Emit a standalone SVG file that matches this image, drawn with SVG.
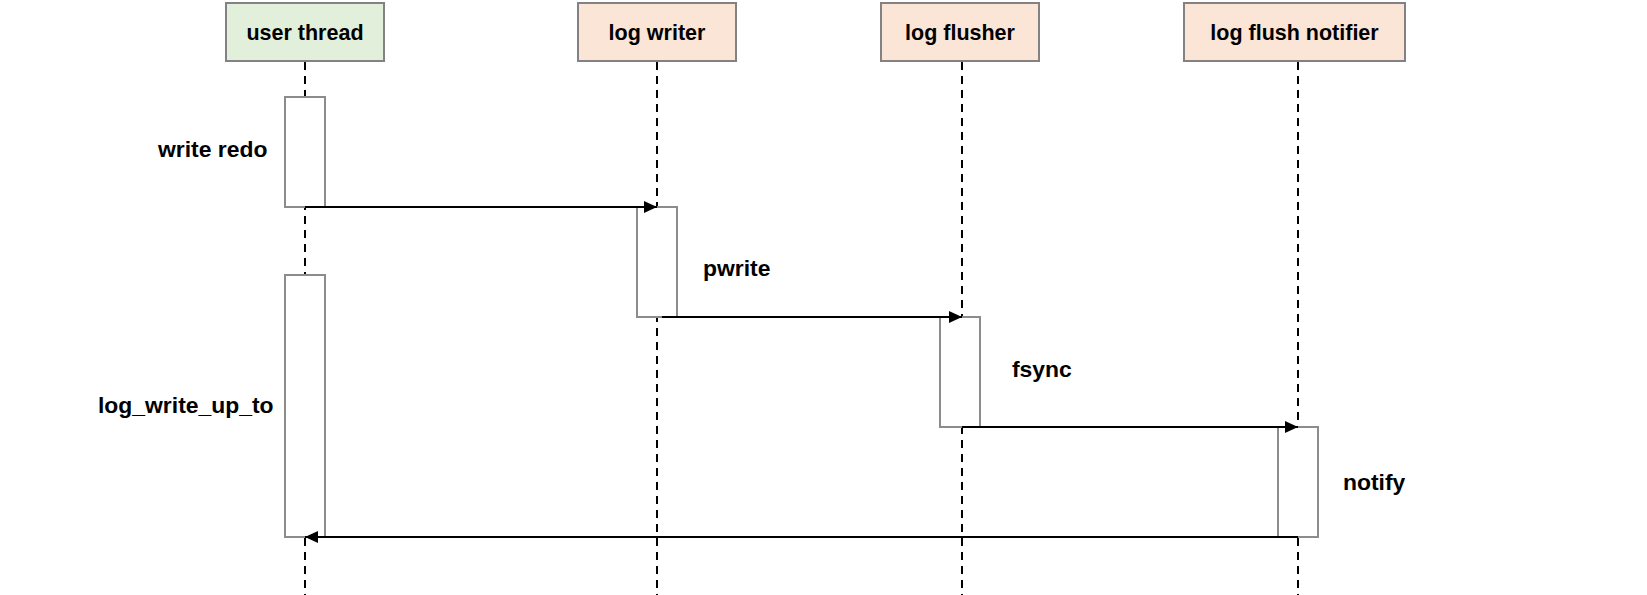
<svg xmlns="http://www.w3.org/2000/svg" width="1647" height="595" viewBox="0 0 1647 595">
<style>
.hdr{stroke:#828282;stroke-width:2}
.green{fill:#e2efda}
.peach{fill:#fbe5d6}
.htxt{font-family:"Liberation Sans",Arial,sans-serif;font-weight:bold;font-size:21.5px;fill:#000;text-anchor:middle}
.lbl{font-family:"Liberation Sans",Arial,sans-serif;font-weight:bold;font-size:22.9px;fill:#000}
.life{stroke:#000;stroke-width:2;stroke-dasharray:8 6;fill:none}
.act{fill:#fff;stroke:#8c8c8c;stroke-width:2}
.msg{stroke:#000;stroke-width:2;fill:none;marker-end:url(#arr)}
</style>
<defs>
<marker id="arr" markerUnits="userSpaceOnUse" markerWidth="14" markerHeight="13" refX="13" refY="6.5" orient="auto">
<path d="M0,0.5 L13,6.5 L0,12.5 Z" fill="#000"/>
</marker>
</defs>
<rect width="1647" height="595" fill="#fff"/>
<g id="lifelines">
<line class="life" x1="305" y1="62" x2="305" y2="595"/>
<line class="life" x1="657" y1="62" x2="657" y2="595"/>
<line class="life" x1="962" y1="62" x2="962" y2="595"/>
<line class="life" x1="1298" y1="62" x2="1298" y2="595"/>
</g>
<g id="user-thread">
<rect class="hdr green" x="226" y="3" width="158" height="58"/>
<text class="htxt" x="305" y="40">user thread</text>
</g>
<g id="log-writer">
<rect class="hdr peach" x="578" y="3" width="158" height="58"/>
<text class="htxt" x="657" y="40">log writer</text>
</g>
<g id="log-flusher">
<rect class="hdr peach" x="881" y="3" width="158" height="58"/>
<text class="htxt" x="960" y="40">log flusher</text>
</g>
<g id="log-flush-notifier">
<rect class="hdr peach" x="1184" y="3" width="221" height="58"/>
<text class="htxt" x="1294.5" y="40">log flush notifier</text>
</g>
<g id="act-write-redo">
<rect class="act" x="285" y="97" width="40" height="110"/>
<text class="lbl" x="158" y="157">write redo</text>
</g>
<g id="act-pwrite">
<rect class="act" x="637" y="207" width="40" height="110"/>
<text class="lbl" x="703" y="276">pwrite</text>
</g>
<g id="act-fsync">
<rect class="act" x="940" y="317" width="40" height="110"/>
<text class="lbl" x="1012" y="377">fsync</text>
</g>
<g id="act-notify">
<rect class="act" x="1278" y="427" width="40" height="110"/>
<text class="lbl" x="1343" y="490">notify</text>
</g>
<g id="act-log-write-up-to">
<rect class="act" x="285" y="275" width="40" height="262"/>
<text class="lbl" x="98" y="413">log_write_up_to</text>
</g>
<g id="connectors">
<line class="msg" x1="305" y1="207" x2="657" y2="207"/>
<line class="msg" x1="662" y1="317" x2="962" y2="317"/>
<line class="msg" x1="962" y1="427" x2="1298" y2="427"/>
<line class="msg" x1="1298" y1="537" x2="305" y2="537"/>
</g>
</svg>
